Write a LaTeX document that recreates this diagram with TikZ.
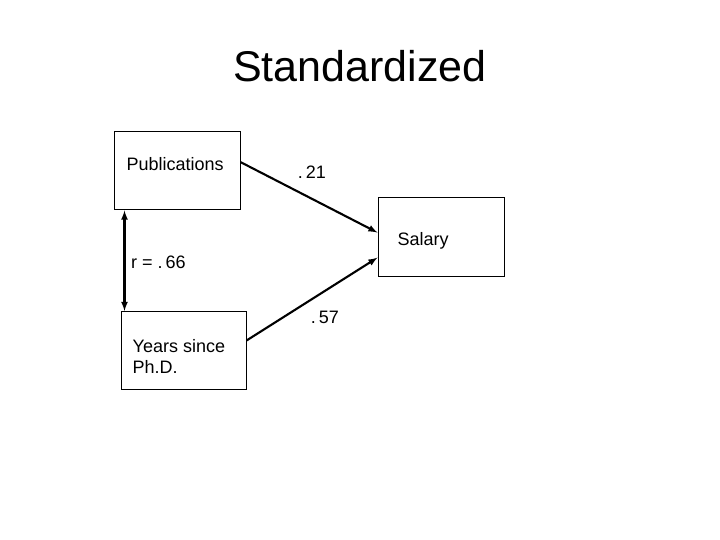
\documentclass[tikz,border=0pt]{standalone}
\usepackage{fontspec}
\setmainfont{Liberation Sans}

\begin{document}
\begin{tikzpicture}[x=1pt, y=-1pt, >=latex,
    every node/.style={font=\fontsize{18}{21}\selectfont},
    varbox/.style={draw, line width=1pt, minimum height=78pt, minimum width=126pt},
    path/.style={line width=2.1pt}]
\useasboundingbox (0,0) rectangle (720,540);
% Title
\node (title) at (360,66) {\fontsize{43}{50}\selectfont Standardized};
% Draw boxes
\node[varbox] (pub) at (177,171) {};
\node[varbox, minimum width=125pt] (yrs) at (183.5,350.5) {};
\node[varbox] (sal) at (441,237) {};
% Box texts
\node[anchor=base west, inner sep=0pt] (pubtxt) at ([xshift=13pt]pub.west) {Publications};
\node[anchor=base west, inner sep=0pt] (yrstxt) at ([xshift=12pt, yshift=-1.5pt]yrs.west) {Years since};
\node[anchor=base west, inner sep=0pt] (phdtxt) at ([xshift=12pt, yshift=-22.5pt]yrs.west) {Ph.D.};
\node[anchor=base west, inner sep=0pt] (saltxt) at ([xshift=20pt, yshift=-8pt]sal.west) {Salary};
% Draw paths
\draw[->, path] (pub.8) -- (sal.176);
\draw[->, path] (yrs.9) -- (sal.198);
\draw[<->, path] ([xshift=11pt]pub.south west) -- ([xshift=4pt]yrs.north west);
% Coefficients
\node (b1) at (312,172) {.\hspace{3pt}21};
\node (b2) at (325,317) {.\hspace{3pt}57};
\node[anchor=west, inner sep=0pt] (rr) at (131,262) {r = .\hspace{3pt}66};
\end{tikzpicture}
\end{document}
